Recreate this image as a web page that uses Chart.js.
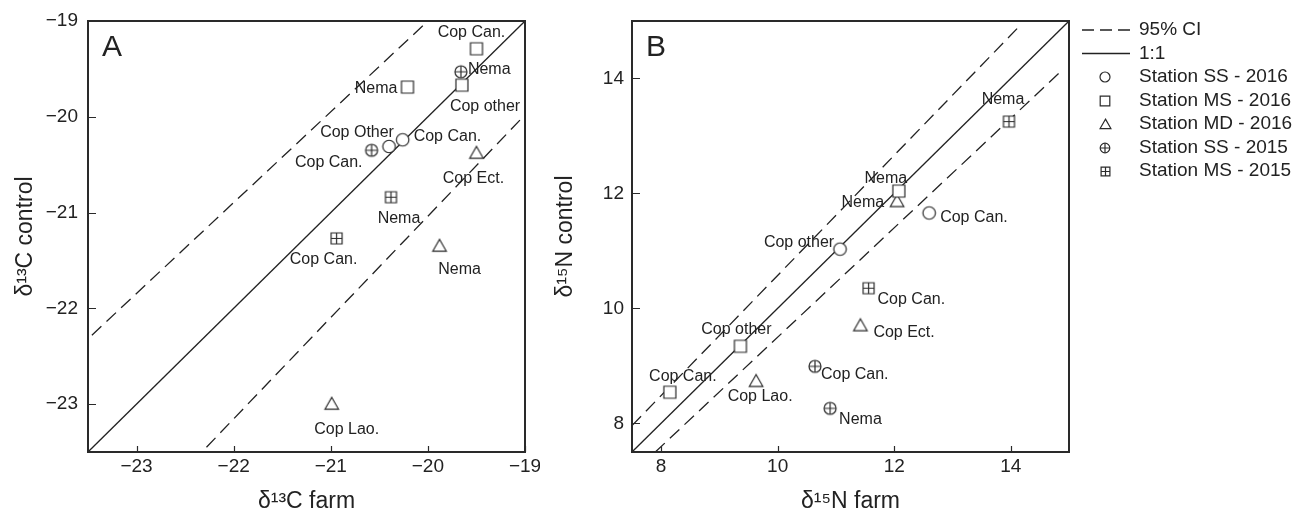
<!DOCTYPE html>
<html>
<head>
<meta charset="utf-8">
<script src="https://cdn.jsdelivr.net/npm/chart.js@4.4.1/dist/chart.umd.min.js"></script>
<style>
  body { margin: 0; background: #fff; }
  #wrap { position: relative; width: 1292px; height: 515px; }
  #wrap canvas { position: absolute; top: 0; }
</style>
</head>
<body>
<div id="wrap">
  <canvas id="chartA" width="540" height="515" style="left:0"></canvas>
  <canvas id="chartB" width="752" height="515" style="left:540px"></canvas>
</div>
<script>
// series: SS 2016, MS 2016, MD 2016, SS 2015, MS 2015
var seriesNames = ['Station SS - 2016', 'Station MS - 2016', 'Station MD - 2016', 'Station SS - 2015', 'Station MS - 2015'];

// panel A - d13C
var aX = [[-20.26, -20.40], [-19.50, -19.65, -20.21], [-19.50, -19.88, -20.99], [-19.66, -20.58], [-20.38, -20.94]];
var aY = [[-20.24, -20.31], [-19.29, -19.67, -19.69], [-20.38, -21.35, -23.00], [-19.53, -20.35], [-20.84, -21.27]];
var aLabels = [['Cop Can.', 'Cop Other'], ['Cop Can.', 'Cop other', 'Nema'], ['Cop Ect.', 'Nema', 'Cop Lao.'], ['Nema', 'Cop Can.'], ['Nema', 'Cop Can.']];
var aOneToOne = [[-23.5, -23.5], [-19, -19]];
var aCiUpper = [[-23.46, -22.28], [-20.0, -19.0]];
var aCiLower = [[-22.28, -23.45], [-19.0, -19.98]];
var aTicks = [-23, -22, -21, -20, -19];

// panel B - d15N
var bX = [[12.60, 11.07], [12.08, 9.36, 8.15], [12.05, 11.42, 9.63], [10.64, 10.90], [13.97, 11.56]];
var bY = [[11.66, 11.03], [12.04, 9.34, 8.54], [11.86, 9.70, 8.73], [8.99, 8.26], [13.25, 10.35]];
var bLabels = [['Cop Can.', 'Cop other'], ['Nema', 'Cop other', 'Cop Can.'], ['Nema', 'Cop Ect.', 'Cop Lao.'], ['Cop Can.', 'Nema'], ['Nema', 'Cop Can.']];
var bOneToOne = [[7.5, 7.5], [15, 15]];
var bCiUpper = [[7.5, 7.96], [14.15, 14.91]];
var bCiLower = [[7.9, 7.5], [14.9, 14.16]];
var bTicks = [8, 10, 12, 14];

// label placement (align, dx, dy) relative to the point
var aPlace = [
  [['left', 11, -3], ['center', -32, -14]],
  [['center', -5, -16], ['left', -12, 21], ['right', -10, 2]],
  [['center', -3, 25], ['center', 20, 24], ['center', 15, 25]],
  [['left', 7, -2], ['right', -9, 12]],
  [['center', 8, 21], ['center', -13, 21]]
];
var bPlace = [
  [['left', 11, 5], ['center', -41, -7]],
  [['center', -13, -13], ['center', -4, -17], ['center', 13, -16]],
  [['right', -13, 1], ['left', 13, 7], ['center', 4, 15]],
  [['left', 6, 8], ['left', 9, 11]],
  [['center', -6, -22], ['left', 9, 11]]
];

var FONT = '"Liberation Sans", Arial, Helvetica, sans-serif';
var INK = '#222';
var markerKinds = ['circle', 'rect', 'triangle', 'circlePlus', 'rectPlus'];
var markerSizes = [12.5, 12, 13.5, 12, 11];

function makeMarker(kind, s) {
  var c = document.createElement('canvas');
  c.width = c.height = Math.ceil(s) + 4;
  var g = c.getContext('2d'), m = c.width / 2, r = s / 2;
  g.strokeStyle = '#2a2a2a';
  g.fillStyle = '#fff';
  g.lineWidth = 1.2;
  g.beginPath();
  if (kind === 'circle' || kind === 'circlePlus') g.arc(m, m, r, 0, Math.PI * 2);
  else if (kind === 'rect' || kind === 'rectPlus') g.rect(m - r, m - r, s, s);
  else { g.moveTo(m, m - r); g.lineTo(m + r, m + r * 0.75); g.lineTo(m - r, m + r * 0.75); g.closePath(); }
  g.fill();
  g.stroke();
  if (kind === 'circlePlus' || kind === 'rectPlus') {
    g.beginPath();
    g.moveTo(m - r, m); g.lineTo(m + r, m);
    g.moveTo(m, m - r); g.lineTo(m, m + r);
    g.stroke();
  }
  return c;
}

var plotMarkers = markerKinds.map(function (k, i) { return makeMarker(k, markerSizes[i]); });
var legendMarkers = markerKinds.map(function (k, i) { return makeMarker(k, markerSizes[i] * 0.8); });

function fmt(v) { return v < 0 ? '\u2212' + Math.abs(v) : String(v); }

function lineSet(label, pts, dash) {
  return {
    label: label,
    data: pts.map(function (p) { return { x: p[0], y: p[1] }; }),
    showLine: true, borderColor: INK, borderWidth: 1.3, borderDash: dash,
    pointRadius: 0, pointHoverRadius: 0, order: 1
  };
}

function buildDatasets(xs, ys, ciUp, ciLo, one) {
  var ds = [lineSet('95% CI', ciUp, [13, 7]), lineSet('95% CI', ciLo, [13, 7]), lineSet('1:1', one, [])];
  seriesNames.forEach(function (name, i) {
    ds.push({
      label: name,
      data: xs[i].map(function (x, j) { return { x: x, y: ys[i][j] }; }),
      pointStyle: plotMarkers[i], pointRadius: 6, order: 0
    });
  });
  return ds;
}

function labelPlugin(labels, place) {
  return {
    id: 'pointLabels',
    afterDatasetsDraw: function (chart) {
      var ctx = chart.ctx;
      ctx.save();
      ctx.font = '16px ' + FONT;
      ctx.fillStyle = INK;
      ctx.textBaseline = 'middle';
      labels.forEach(function (list, i) {
        var meta = chart.getDatasetMeta(i + 3);
        list.forEach(function (txt, j) {
          var p = meta.data[j], pl = place[i][j];
          ctx.textAlign = pl[0];
          ctx.fillText(txt, p.x + pl[1], p.y + pl[2]);
        });
      });
      ctx.restore();
    }
  };
}

function framePlugin(letter, xTicks, yTicks) {
  return {
    id: 'frame',
    afterDraw: function (chart) {
      var a = chart.chartArea, ctx = chart.ctx, sx = chart.scales.x, sy = chart.scales.y;
      ctx.save();
      ctx.strokeStyle = '#2a2a2a';
      ctx.lineWidth = 2;
      ctx.strokeRect(a.left, a.top, a.right - a.left, a.bottom - a.top);
      ctx.lineWidth = 1.2;
      ctx.beginPath();
      xTicks.forEach(function (v) {
        var x = Math.round(sx.getPixelForValue(v)) + 0.5;
        ctx.moveTo(x, a.bottom); ctx.lineTo(x, a.bottom - 6);
      });
      yTicks.forEach(function (v) {
        var y = Math.round(sy.getPixelForValue(v)) + 0.5;
        ctx.moveTo(a.left, y); ctx.lineTo(a.left + 8, y);
      });
      ctx.stroke();
      ctx.font = '30px ' + FONT;
      ctx.fillStyle = INK;
      ctx.textAlign = 'left';
      ctx.textBaseline = 'alphabetic';
      ctx.fillText(letter, a.left + 14, a.top + 35);
      ctx.restore();
    }
  };
}

var legendPlugin = {
  id: 'sideLegend',
  afterDraw: function (chart) {
    var ctx = chart.ctx, seen = {}, row = 0;
    ctx.save();
    ctx.font = '19px ' + FONT;
    ctx.fillStyle = INK;
    ctx.textBaseline = 'middle';
    ctx.textAlign = 'left';
    chart.data.datasets.forEach(function (ds, i) {
      if (seen[ds.label]) return;
      seen[ds.label] = true;
      var y = 30 + row * 23.5;
      row++;
      if (ds.showLine) {
        ctx.strokeStyle = INK;
        ctx.lineWidth = 1.3;
        ctx.setLineDash(ds.borderDash.length ? [12, 6] : []);
        ctx.beginPath();
        ctx.moveTo(542, y); ctx.lineTo(590, y);
        ctx.stroke();
        ctx.setLineDash([]);
      } else {
        var img = legendMarkers[i - 3];
        ctx.drawImage(img, Math.round(565 - img.width / 2), Math.round(y - img.height / 2));
      }
      ctx.fillText(ds.label, 599, y);
    });
    ctx.restore();
  }
};

function options(xr, yr, xTicks, yTicks, xTitle, yTitle, yAxisW, yPad, padRight) {
  return {
    responsive: false,
    animation: false,
    layout: { padding: { left: 0, right: padRight, top: 21, bottom: 0 } },
    plugins: { legend: { display: false }, tooltip: { enabled: false } },
    scales: {
      x: {
        type: 'linear', min: xr[0], max: xr[1],
        grid: { display: false, drawTicks: false }, border: { display: false },
        afterBuildTicks: function (s) { s.ticks = xTicks.map(function (v) { return { value: v }; }); },
        afterFit: function (s) { s.height = 63; s.paddingLeft = 0; s.paddingRight = 0; },
        ticks: { padding: 3, color: INK, autoSkip: false, maxRotation: 0, font: { size: 19, family: FONT }, callback: fmt },
        title: { display: true, text: xTitle, color: INK, font: { size: 23, family: FONT, lineHeight: 1.2 }, padding: { top: 0, bottom: 0 } }
      },
      y: {
        type: 'linear', min: yr[0], max: yr[1],
        grid: { display: false, drawTicks: false }, border: { display: false },
        afterBuildTicks: function (s) { s.ticks = yTicks.map(function (v) { return { value: v }; }); },
        afterFit: function (s) { s.width = yAxisW; s.paddingTop = 0; s.paddingBottom = 0; },
        ticks: { padding: yPad, color: INK, autoSkip: false, font: { size: 19, family: FONT }, callback: fmt },
        title: { display: true, text: yTitle, color: INK, font: { size: 23, family: FONT, lineHeight: 1.2 }, padding: { top: 12, bottom: 0 } }
      }
    }
  };
}

new Chart(document.getElementById('chartA'), {
  type: 'scatter',
  data: { datasets: buildDatasets(aX, aY, aCiUpper, aCiLower, aOneToOne) },
  options: options([-23.5, -19], [-23.5, -19], aTicks, aTicks, 'δ¹³C farm', 'δ¹³C control', 88, 10, 15),
  plugins: [labelPlugin(aLabels, aPlace), framePlugin('A', aTicks, aTicks)]
});

new Chart(document.getElementById('chartB'), {
  type: 'scatter',
  data: { datasets: buildDatasets(bX, bY, bCiUpper, bCiLower, bOneToOne) },
  options: options([7.5, 15], [7.5, 15], bTicks, bTicks, 'δ¹⁵N farm', 'δ¹⁵N control', 92, 8, 223),
  plugins: [labelPlugin(bLabels, bPlace), framePlugin('B', bTicks, bTicks), legendPlugin]
});
</script>
</body>
</html>
